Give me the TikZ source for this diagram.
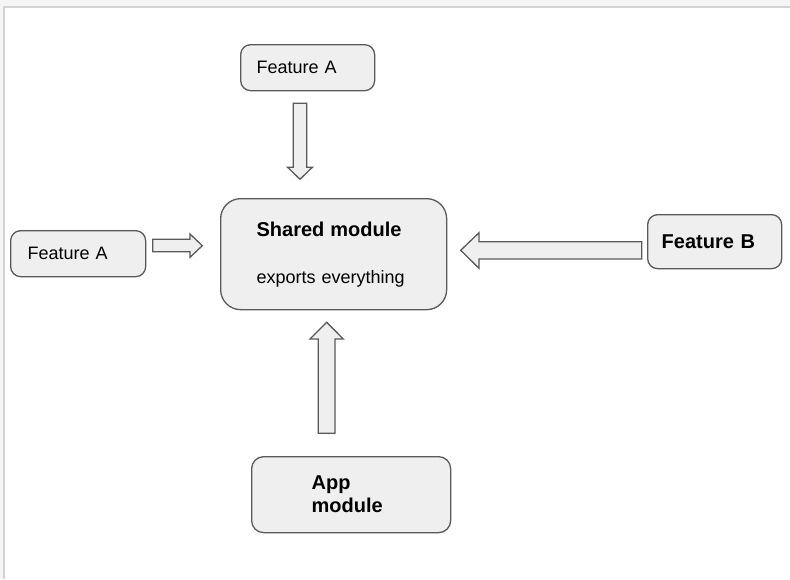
\documentclass[tikz,border=0pt]{standalone}
\usepackage{fontspec}
\setmainfont{Liberation Sans}
\definecolor{boxfill}{HTML}{EFEFEF}
\definecolor{boxline}{HTML}{5A5A5A}
\definecolor{edgegray}{HTML}{D4D4D4}
\tikzset{
  modbox/.style={draw=boxline,fill=boxfill,line width=0.65pt,anchor=north west,
    align=left,inner ysep=0pt,font=\fontsize{9}{11}\selectfont},
  blockarrow/.style={draw=boxline,fill=boxfill,line width=0.65pt,line join=miter}
}
\begin{document}
\begin{tikzpicture}[x=0.5pt,y=-0.5pt]
\useasboundingbox (0,0) rectangle (790,579);
\fill[white] (0,0) rectangle (790,579);
\fill[gray!8] (0,0) rectangle (790,7); % top strip
\fill[gray!8] (0,0) rectangle (4,579); % left strip
\draw[edgegray,line width=0.6pt] (790,7) -- (4,7) -- (4,579);

\node[modbox,rounded corners=5pt,minimum width=67pt,minimum height=23pt,
  inner xsep=8pt,text width=51pt] (featTop) at (240,44) {Feature A};
\node[modbox,rounded corners=5pt,minimum width=67.5pt,minimum height=23pt,
  inner xsep=8.5pt,text width=50.5pt] (featLeft) at (10,230) {Feature A};
\node[modbox,rounded corners=5pt,minimum width=67pt,minimum height=27pt,
  inner xsep=7pt,text width=53pt,font=\bfseries\fontsize{10}{12}\selectfont] (featB) at (647,214) {Feature B};
\node[modbox,rounded corners=10pt,minimum width=113pt,minimum height=55.5pt,
  inner xsep=18pt,text width=77pt] (shared) at (220,198)
  {{\bfseries\fontsize{10}{12}\selectfont Shared module}\\[12.5pt]exports everything};
\node[modbox,rounded corners=6pt,minimum width=99.5pt,minimum height=38pt,
  inner xsep=30pt,text width=39.5pt,font=\bfseries\fontsize{10}{11.5}\selectfont] (app) at (251,456) {App\\module};

\draw[blockarrow] (293.3,103.3) -- (306.7,103.3) -- (306.7,167.3) -- (312.3,167.3) -- (300,179.3)
  -- (287.7,167.3) -- (293.3,167.3) -- cycle; % featTop down
\draw[blockarrow] (152.7,239.3) -- (190,239.3) -- (190,234) -- (202.3,245.7) -- (190,257.3)
  -- (190,251.7) -- (152.7,251.7) -- cycle; % featLeft right
\draw[blockarrow] (641.7,241.7) -- (479,241.7) -- (479,232.7) -- (460.7,250.3) -- (479,268.3)
  -- (479,259) -- (641.7,259) -- cycle; % featB left
\draw[blockarrow] (318.3,433.3) -- (318.3,339) -- (310,339) -- (326.7,322.3) -- (343.3,339)
  -- (335,339) -- (335,433.3) -- cycle; % app up

\end{tikzpicture}
\end{document}
